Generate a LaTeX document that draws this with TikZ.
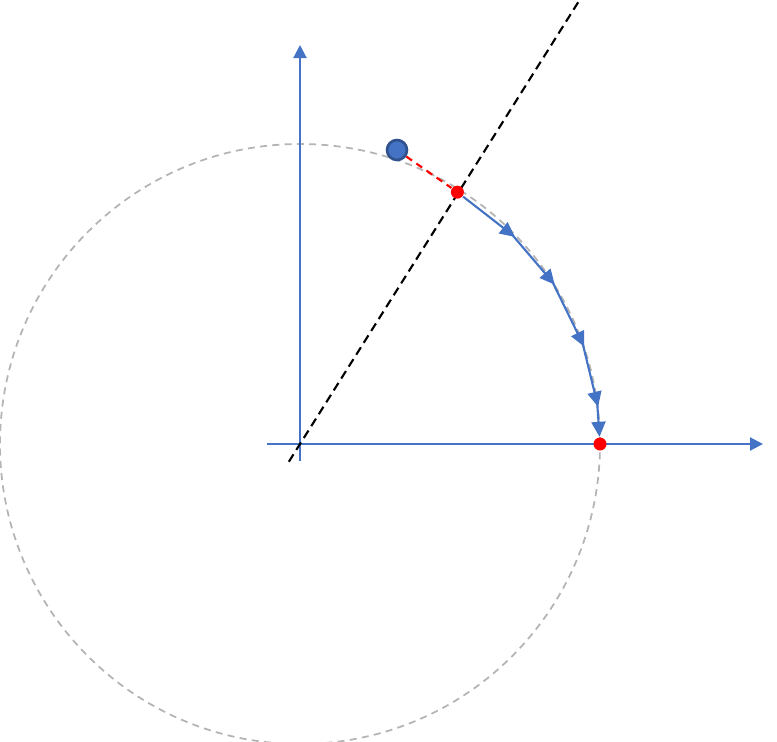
\documentclass[tikz,border=0pt]{standalone}
\usepackage{xcolor}
\usepackage{tikz}
\usetikzlibrary{arrows.meta,positioning,calc}
\definecolor{axisblue}{HTML}{4472C4}
\definecolor{balledge}{HTML}{2F528F}
\definecolor{orbitgray}{HTML}{B4B4B4}

\begin{document}
\begin{tikzpicture}[
    axis/.style={axisblue, line width=0.6pt, -{Triangle[width=0.13cm,length=0.13cm]}},
    hop/.style={axisblue, line width=0.6pt, -{Triangle[width=0.14cm,length=0.15cm]}, shorten >=-1pt},
    orbit/.style={orbitgray, line width=0.5pt, dash pattern=on 2pt off 1.5pt},
    reddot/.style={circle, fill=red, inner sep=0pt, minimum size=0.13cm},
    ball/.style={circle, fill=axisblue, draw=balledge, line width=0.75pt, inner sep=0pt, minimum size=0.2cm}
]
    \useasboundingbox (-3,-2.97) rectangle (4.77,4.44);

    \draw[orbit] (0,0) circle (3);

    \draw[axis] (-0.33,0) -- (4.63,0);
    \draw[axis] (0,-0.17) -- (0,3.99);

    \draw[dashed, line width=0.6pt, dash pattern=on 2.5pt off 1.5pt] (237.8:0.21) -- (57.8:5.25);

    \node[ball] (ball) at (0.97,2.94) {};
    \node[reddot] (hit) at (58:2.97) {};
    \node[reddot] (rest) at (0:3) {};

    \draw[red, line width=0.6pt, dash pattern=on 2pt off 1.5pt] (ball) -- (hit);

    \coordinate (p1) at (44.6:2.98);
    \coordinate (p2) at (32.7:3);
    \coordinate (p3) at (19.6:3);
    \coordinate (p4) at (7.8:3);

    \draw[hop] (hit) -- (p1);
    \draw[hop] (p1) -- (p2);
    \draw[hop] (p2) -- (p3);
    \draw[hop] (p3) -- (p4);
    \draw[hop, shorten >=0pt] (p4) -- (rest);
\end{tikzpicture}
\end{document}
